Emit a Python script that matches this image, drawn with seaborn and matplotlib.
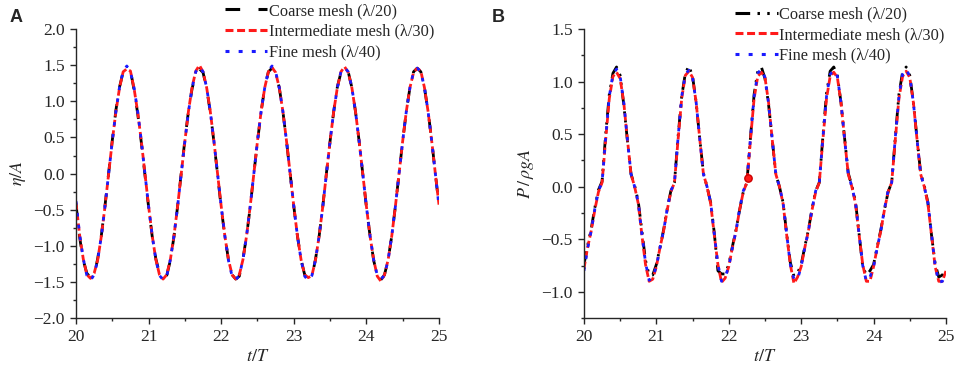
import numpy as np
import pandas as pd
import seaborn as sns
import matplotlib.pyplot as plt
from matplotlib.ticker import MultipleLocator, FuncFormatter
from matplotlib.lines import Line2D

# time axis, t/T from 20 to 25 in steps of 0.05
t = [round(20 + 0.05 * k, 2) for k in range(101)]

# ---- panel A: free surface elevation eta/A ----
coarse_A = [
    -0.42, -0.88, -1.20, -1.38, -1.44, -1.42, -1.17, -0.85, -0.44, 0.01, 0.46, 0.88, 1.20, 1.41, 1.43, 1.43, 1.16, 0.83, 0.43, -0.02,
    -0.46, -0.87, -1.18, -1.38, -1.45, -1.41, -1.20, -0.87, -0.45, 0.01, 0.47, 0.87, 1.18, 1.38, 1.45, 1.40, 1.18, 0.85, 0.44, -0.01,
    -0.47, -0.86, -1.19, -1.40, -1.46, -1.42, -1.18, -0.86, -0.46, 0.00, 0.44, 0.86, 1.19, 1.41, 1.46, 1.41, 1.19, 0.86, 0.45, 0.00,
    -0.45, -0.86, -1.19, -1.40, -1.43, -1.43, -1.18, -0.86, -0.45, 0.01, 0.45, 0.86, 1.20, 1.40, 1.47, 1.41, 1.19, 0.86, 0.45, 0.00,
    -0.46, -0.86, -1.20, -1.41, -1.47, -1.40, -1.19, -0.86, -0.45, 0.00, 0.45, 0.86, 1.19, 1.41, 1.46, 1.41, 1.19, 0.86, 0.46, 0.00,
    -0.44]
inter_A = [
    -0.40, -0.85, -1.18, -1.40, -1.45, -1.38, -1.19, -0.86, -0.45, 0.00, 0.45, 0.86, 1.19, 1.41, 1.45, 1.42, 1.18, 0.85, 0.45, 0.00,
    -0.45, -0.86, -1.19, -1.40, -1.46, -1.40, -1.19, -0.86, -0.45, 0.00, 0.45, 0.87, 1.20, 1.42, 1.50, 1.41, 1.19, 0.86, 0.45, 0.00,
    -0.45, -0.86, -1.19, -1.40, -1.46, -1.40, -1.19, -0.86, -0.45, 0.00, 0.45, 0.86, 1.19, 1.41, 1.47, 1.40, 1.19, 0.86, 0.45, 0.00,
    -0.45, -0.86, -1.19, -1.40, -1.44, -1.41, -1.19, -0.86, -0.45, 0.00, 0.45, 0.86, 1.19, 1.41, 1.48, 1.40, 1.19, 0.86, 0.45, 0.00,
    -0.45, -0.86, -1.19, -1.42, -1.49, -1.40, -1.19, -0.86, -0.45, 0.00, 0.45, 0.86, 1.19, 1.40, 1.46, 1.42, 1.19, 0.86, 0.45, 0.00,
    -0.43]
fine_A = [
    -0.38, -0.84, -1.18, -1.41, -1.48, -1.40, -1.19, -0.86, -0.45, 0.00, 0.45, 0.86, 1.20, 1.42, 1.49, 1.41, 1.19, 0.86, 0.45, 0.00,
    -0.45, -0.86, -1.19, -1.41, -1.47, -1.42, -1.19, -0.86, -0.45, 0.00, 0.45, 0.86, 1.19, 1.41, 1.48, 1.41, 1.19, 0.86, 0.45, 0.00,
    -0.45, -0.86, -1.20, -1.42, -1.47, -1.41, -1.19, -0.86, -0.45, 0.00, 0.45, 0.86, 1.19, 1.42, 1.49, 1.41, 1.19, 0.86, 0.45, 0.00,
    -0.45, -0.86, -1.19, -1.42, -1.48, -1.41, -1.19, -0.86, -0.45, 0.00, 0.45, 0.86, 1.19, 1.41, 1.47, 1.41, 1.19, 0.86, 0.45, 0.00,
    -0.45, -0.86, -1.19, -1.41, -1.46, -1.41, -1.19, -0.86, -0.45, 0.00, 0.45, 0.86, 1.19, 1.41, 1.46, 1.41, 1.19, 0.86, 0.45, 0.00,
    -0.45]

# ---- panel B: pressure P/(rho g A) ----
coarse_B = [
    -0.74, -0.56, -0.40, -0.20, -0.03, 0.05, 0.50, 0.88, 1.08, 1.14, 1.06, 0.78, 0.44, 0.12, 0.01, -0.14, -0.42, -0.70, -0.84, -0.84,
    -0.74, -0.58, -0.41, -0.21, -0.04, 0.04, 0.48, 0.86, 1.08, 1.15, 1.05, 0.80, 0.45, 0.13, 0.00, -0.15, -0.44, -0.80, -0.83, -0.83,
    -0.74, -0.57, -0.41, -0.22, -0.05, 0.04, 0.47, 0.88, 1.10, 1.14, 1.03, 0.78, 0.45, 0.12, 0.00, -0.15, -0.45, -0.72, -0.85, -0.82,
    -0.74, -0.57, -0.41, -0.21, -0.04, 0.04, 0.48, 0.89, 1.10, 1.14, 1.06, 0.80, 0.46, 0.13, 0.01, -0.14, -0.45, -0.76, -0.84, -0.80,
    -0.74, -0.57, -0.41, -0.22, -0.05, 0.04, 0.47, 0.88, 1.09, 1.14, 1.06, 0.80, 0.46, 0.13, 0.01, -0.15, -0.46, -0.73, -0.86, -0.84,
    -0.78]
inter_B = [
    -0.78, -0.58, -0.42, -0.22, -0.05, 0.04, 0.45, 0.84, 1.05, 1.09, 1.03, 0.80, 0.45, 0.12, 0.00, -0.16, -0.46, -0.74, -0.90, -0.88,
    -0.76, -0.58, -0.42, -0.22, -0.05, 0.04, 0.45, 0.84, 1.06, 1.10, 1.04, 0.80, 0.45, 0.12, 0.00, -0.16, -0.46, -0.74, -0.91, -0.87,
    -0.76, -0.58, -0.42, -0.22, -0.05, 0.04, 0.45, 0.84, 1.05, 1.09, 1.04, 0.80, 0.45, 0.12, 0.00, -0.16, -0.46, -0.74, -0.92, -0.86,
    -0.76, -0.58, -0.42, -0.22, -0.05, 0.04, 0.45, 0.84, 1.05, 1.09, 1.04, 0.80, 0.45, 0.12, 0.00, -0.16, -0.46, -0.74, -0.90, -0.90,
    -0.76, -0.58, -0.42, -0.22, -0.05, 0.04, 0.45, 0.84, 1.05, 1.10, 1.04, 0.80, 0.45, 0.12, 0.00, -0.16, -0.46, -0.76, -0.90, -0.90,
    -0.80]
fine_B = [
    -0.80, -0.59, -0.42, -0.21, -0.04, 0.04, 0.47, 0.86, 1.07, 1.12, 1.05, 0.80, 0.45, 0.12, 0.00, -0.15, -0.45, -0.72, -0.89, -0.86,
    -0.76, -0.58, -0.42, -0.21, -0.04, 0.04, 0.47, 0.86, 1.07, 1.11, 1.04, 0.80, 0.45, 0.12, 0.00, -0.15, -0.45, -0.74, -0.90, -0.86,
    -0.76, -0.58, -0.42, -0.21, -0.04, 0.04, 0.47, 0.86, 1.08, 1.12, 1.04, 0.79, 0.45, 0.12, 0.00, -0.15, -0.45, -0.74, -0.88, -0.88,
    -0.76, -0.58, -0.42, -0.21, -0.04, 0.04, 0.47, 0.86, 1.07, 1.11, 1.05, 0.80, 0.45, 0.12, 0.00, -0.15, -0.45, -0.75, -0.90, -0.86,
    -0.76, -0.58, -0.42, -0.21, -0.04, 0.04, 0.47, 0.86, 1.07, 1.12, 1.05, 0.80, 0.45, 0.12, 0.00, -0.15, -0.45, -0.75, -0.91, -0.90,
    -0.82]

# the single highlighted point in panel B
marker_t = [22.27]
marker_v = [0.08]

labels = ['Coarse mesh (λ/20)', 'Intermediate mesh (λ/30)', 'Fine mesh (λ/40)']
colors = {labels[0]: 'black', labels[1]: '#ff1a1a', labels[2]: '#1a1aff'}


def long_df(series):
    frames = [pd.DataFrame({'t': t, 'v': s, 'mesh': lab}) for s, lab in zip(series, labels)]
    return pd.concat(frames, ignore_index=True)


df_A = long_df([coarse_A, inter_A, fine_A])
df_B = long_df([coarse_B, inter_B, fine_B])

sns.set_style('ticks')
plt.rcParams['font.family'] = ['Liberation Serif', 'DejaVu Serif']
plt.rcParams['mathtext.fontset'] = 'stix'

fig = plt.figure(figsize=(9.57, 3.69), dpi=100)
ax_A = fig.add_axes([0.0794, 0.138, 0.3793, 0.783])
ax_B = fig.add_axes([0.6102, 0.138, 0.3783, 0.783])

dashes_A = {labels[0]: (4.8, 6.0), labels[1]: (2.6, 1.2), labels[2]: (1.3, 3.0)}
dashes_B = {labels[0]: (4.8, 2.4, 0.8, 2.4, 0.8, 2.4), labels[1]: (2.6, 1.2), labels[2]: (1.3, 3.0)}

minus = FuncFormatter(lambda v, p: ('%.1f' % v).replace('-', '\u2212'))

for ax, df, dashes, ylim, ylab in [
        (ax_A, df_A, dashes_A, (-2.0, 2.0), '$\\eta/A$'),
        (ax_B, df_B, dashes_B, (-1.25, 1.5), '$P\\,/\\,\\rho g A$')]:
    sns.lineplot(data=df, x='t', y='v', hue='mesh', style='mesh', palette=colors,
                 dashes=dashes, estimator=None, sort=False, linewidth=2.0,
                 legend=False, ax=ax)
    ax.set_xlim(20, 25)
    ax.set_ylim(*ylim)
    ax.xaxis.set_major_locator(MultipleLocator(1))
    ax.xaxis.set_minor_locator(MultipleLocator(0.5))
    ax.yaxis.set_major_locator(MultipleLocator(0.5))
    ax.yaxis.set_minor_locator(MultipleLocator(0.25))
    ax.yaxis.set_major_formatter(minus)
    ax.tick_params(which='major', length=4.5, width=1.0, labelsize=12.5, direction='out')
    ax.tick_params(which='minor', length=2.5, width=1.0, direction='out')
    for sp in ['left', 'bottom']:
        ax.spines[sp].set_linewidth(1.0)
    sns.despine(ax=ax)
    ax.set_xlabel('$t/T$', fontsize=13, labelpad=2)
    ax.set_ylabel(ylab, fontsize=13, labelpad=4)

    # legend handles carry the same colours and dash patterns as the curves
    handles = [Line2D([], [], color=colors[lab], linewidth=2.2, dashes=dashes[lab])
               for lab in labels]
    anchor = (0.41, 1.09) if ax is ax_A else (0.417, 1.078)
    ax.legend(handles=handles, labels=labels, loc='upper left', bbox_to_anchor=anchor,
              frameon=False, fontsize=11.8, handlelength=2.6, handletextpad=0.1,
              labelspacing=0.28, borderpad=0, borderaxespad=0)

sns.scatterplot(x=marker_t, y=marker_v, ax=ax_B, color='#ff1a1a', s=28,
                edgecolor='#cc0000', linewidth=1, zorder=5, legend=False)

fig.text(0.010, 0.975, 'A', fontsize=13, fontweight='bold', family='Liberation Sans', va='top')
fig.text(0.514, 0.975, 'B', fontsize=13, fontweight='bold', family='Liberation Sans', va='top')

plt.savefig('out.png', dpi=100)
